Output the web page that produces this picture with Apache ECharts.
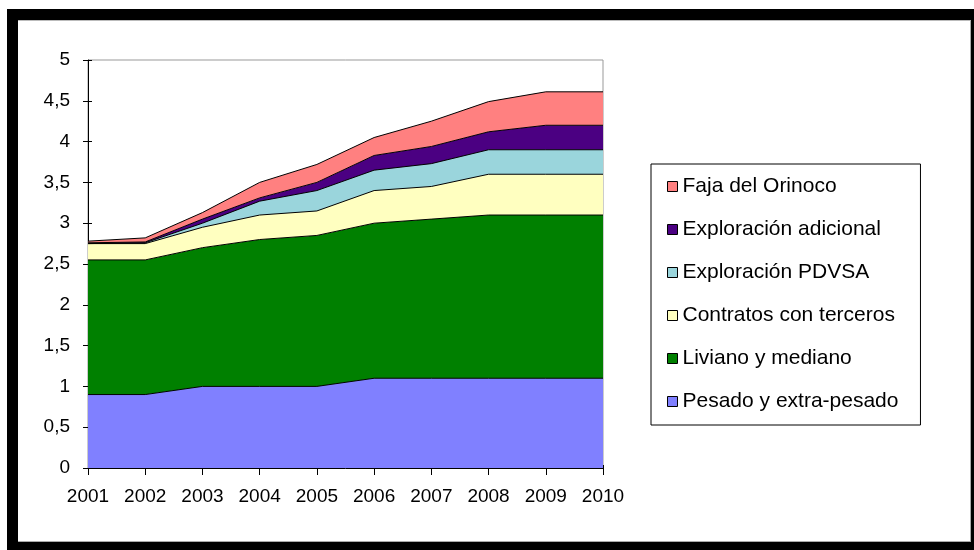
<!DOCTYPE html>
<html>
<head>
<meta charset="utf-8">
<script src="https://cdn.jsdelivr.net/npm/echarts@6/dist/echarts.min.js"></script>
<style>
  html, body { margin: 0; padding: 0; background: #fff; }
  #frame { position: absolute; left: 7px; top: 9px; width: 967px; height: 541px; box-sizing: border-box;
           border-style: solid; border-color: #000; border-width: 11px 3px 8px 11px; }
  #inner { position: absolute; left: 0; top: 0; right: 0; bottom: 0; border-right: 1px solid #aaa; border-bottom: 1px solid #aaa; border-top: 1px solid #bbb; }
  #chart { position: absolute; left: 0; top: 0; width: 974px; height: 550px; }
</style>
</head>
<body>
<div id="frame"><div id="inner"></div></div>
<div id="chart"></div>
<script>
const years = ['2001','2002','2003','2004','2005','2006','2007','2008','2009','2010'];
const pesado    = [0.9, 0.9, 1.0, 1.0, 1.0, 1.1, 1.1, 1.1, 1.1, 1.1];
const liviano   = [1.65, 1.65, 1.7, 1.8, 1.85, 1.9, 1.95, 2.0, 2.0, 2.0];
const contratos = [0.2, 0.2, 0.25, 0.3, 0.3, 0.4, 0.4, 0.5, 0.5, 0.5];
const pdvsa     = [0.0, 0.01, 0.05, 0.17, 0.25, 0.25, 0.28, 0.3, 0.3, 0.3];
const adicional = [0.01, 0.01, 0.05, 0.04, 0.1, 0.18, 0.21, 0.22, 0.3, 0.3];
const faja      = [0.02, 0.05, 0.08, 0.19, 0.22, 0.22, 0.31, 0.37, 0.41, 0.41];

const seriesDefs = [
  { name: 'Pesado y extra-pesado', data: pesado, color: '#8080FF' },
  { name: 'Liviano y mediano', data: liviano, color: '#008000' },
  { name: 'Contratos con terceros', data: contratos, color: '#FFFFC0' },
  { name: 'Exploración PDVSA', data: pdvsa, color: '#9AD5DC' },
  { name: 'Exploración adicional', data: adicional, color: '#4B0082' },
  { name: 'Faja del Orinoco', data: faja, color: '#FF8080' }
];

const FONT = '"Liberation Sans", Arial, sans-serif';
const chart = echarts.init(document.getElementById('chart'), null, { renderer: 'canvas' });

const yFmt = v => String(v).replace('.', ',');

chart.setOption({
  backgroundColor: 'transparent',
  animation: false,
  grid: { left: 88, right: 371, top: 60, bottom: 82, show: true, borderColor: '#999', borderWidth: 1, backgroundColor: '#fff' },
  legend: {
    orient: 'vertical', left: 651, top: 164,
    data: seriesDefs.map(s => s.name).reverse(),
    borderColor: '#000', borderWidth: 1,
    padding: [12, 22, 13, 16],
    itemWidth: 10, itemHeight: 10, itemGap: 22,
    icon: 'rect',
    itemStyle: { borderColor: '#000', borderWidth: 1 },
    textStyle: { fontFamily: FONT, fontSize: 21, color: '#000', lineHeight: 20 },
    selectedMode: false
  },
  xAxis: [
    {
      type: 'category', data: years, boundaryGap: false,
      axisLine: { lineStyle: { color: '#000', width: 1 } },
      axisTick: { show: true, alignWithLabel: true, length: 7, lineStyle: { color: '#000' } },
      axisLabel: { fontFamily: FONT, fontSize: 19, color: '#000', margin: 19 },
      splitLine: { show: false }
    },
    {
      type: 'category', data: years, boundaryGap: false, position: 'bottom',
      axisLine: { show: false },
      axisTick: { show: true, inside: true, length: 3, lineStyle: { color: '#000' } },
      axisLabel: { show: false }, splitLine: { show: false }
    }
  ],
  yAxis: [
    {
      type: 'value', min: 0, max: 5, interval: 0.5,
      axisLine: { show: true, lineStyle: { color: '#000', width: 1 } },
      axisTick: { show: true, length: 5, lineStyle: { color: '#000' } },
      axisLabel: { fontFamily: FONT, fontSize: 19, color: '#000', margin: 18, formatter: yFmt },
      splitLine: { show: false }
    },
    {
      type: 'value', min: 0, max: 5, interval: 0.5, position: 'left',
      axisLine: { show: false },
      axisTick: { show: true, inside: true, length: 4, lineStyle: { color: '#000' } },
      axisLabel: { show: false }, splitLine: { show: false }
    }
  ],
  series: seriesDefs.map(s => ({
    name: s.name, type: 'line', stack: 'total', data: s.data,
    symbol: 'none', smooth: false,
    color: s.color,
    itemStyle: { color: s.color, borderColor: '#000', borderWidth: 1 },
    lineStyle: { color: '#000', width: 1 },
    areaStyle: { color: s.color, opacity: 1 },
    z: 2
  }))
});
</script>
</body>
</html>
